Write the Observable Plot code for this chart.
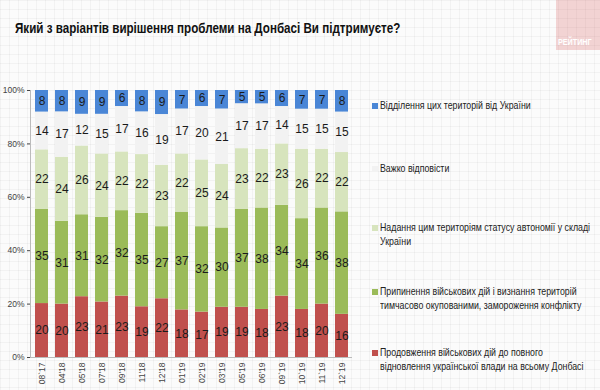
<!DOCTYPE html>
<html>
<head>
<meta charset="utf-8">
<script src="https://cdn.jsdelivr.net/npm/d3@7"></script>
<script src="https://cdn.jsdelivr.net/npm/@observablehq/plot@0.6"></script>
<style>
  html, body { margin: 0; padding: 0; }
  body {
    width: 600px; height: 390px; position: relative; overflow: hidden;
    font-family: "Liberation Sans", Arial, sans-serif;
    background-color: #fbfbfb;
    background-image:
      linear-gradient(to right, rgba(0,0,0,0.035) 1px, transparent 1px),
      linear-gradient(to bottom, rgba(0,0,0,0.035) 1px, transparent 1px);
    background-size: 9px 9px;
  }
  #title { position: absolute; left: 15px; top: 20px; font-weight: bold; font-size: 14px; color: #111; white-space: nowrap; transform: scaleX(0.83); transform-origin: left top; }
  #logo { position: absolute; left: 556px; top: 0; width: 44px; height: 50px; background: rgba(214, 90, 90, 0.25); overflow: hidden; }
  #logo span { position: absolute; left: 2px; top: 37px; color: #fff; font-weight: bold; font-size: 9px; white-space: nowrap; transform: scaleX(0.8); transform-origin: left top; }
  #chart { position: absolute; left: 0; top: 80px; }
  .lg { position: absolute; left: 372px; font-size: 10.5px; line-height: 13.5px; color: #222; }
  .lg i { position: absolute; left: 0; top: 4px; width: 6px; height: 6px; }
  .lg div { margin-left: 8px; white-space: nowrap; transform-origin: left top; display: inline-block; }
</style>
</head>
<body>
<div id="title">Який з варіантів вирішення проблеми на Донбасі Ви підтримуєте?</div>
<div id="logo"><span>РЕЙТИНГ</span></div>
<div id="chart"></div>
<div id="legend"></div>
<script>
const periods = ["08`17","04'18","05'18","07'18","09'18","11'18","12'18","01'19","02'19","03'19","05'19","06'19","09`19","10`19","11`19","12`19"];

const seriesNames = [
  "Продовження військових дій до повного відновлення української влади на всьому Донбасі",
  "Припинення військових дій і визнання територій тимчасово окупованими, замороження конфлікту",
  "Надання цим територіям статусу автономії у складі України",
  "Важко відповісти",
  "Відділення цих територій від України"
];
const seriesColors = ["#c0504d", "#9bbb59", "#d7e4bd", "#f2f2f2", "#4a86d6"];

const continueWar = [20,20,23,21,23,19,22,18,17,19,19,18,23,18,20,16];
const freeze      = [35,31,31,32,32,35,27,37,32,30,37,38,34,34,36,38];
const autonomy    = [22,24,26,24,22,22,23,22,25,24,23,22,23,26,22,22];
const hardToSay   = [14,17,12,15,17,16,19,17,20,21,17,17,14,15,15,15];
const separation  = [ 8, 8, 9, 9, 6, 8, 9, 7, 6, 7, 5, 5, 6, 7, 7, 8];

// legend order (top to bottom) and line breaks as in the reference
const legendOrder = [4, 3, 2, 1, 0];
const legendLines = [
  ["Відділення цих територій від України"],
  ["Важко відповісти"],
  ["Надання цим територіям статусу автономії у складі", "України"],
  ["Припинення військових дій і визнання територій", "тимчасово окупованими, замороження конфлікту"],
  ["Продовження військових дій до повного", "відновлення української влади на всьому Донбасі"]
];
const legendTops = [99, 162, 221, 285, 346];

const seriesValues = [continueWar, freeze, autonomy, hardToSay, separation];
const data = [];
seriesNames.forEach((s, si) => {
  periods.forEach((p, pi) => data.push({period: p, series: s, value: seriesValues[si][pi]}));
});

const chart = Plot.plot({
  width: 360,
  height: 310,
  marginTop: 10,
  marginBottom: 33,
  marginLeft: 30,
  marginRight: 8,
  style: {background: "transparent", fontFamily: "'Liberation Sans', Arial, sans-serif", fontSize: "8.5px", color: "#444"},
  x: {domain: periods, paddingInner: 0.35, paddingOuter: 0.08, label: null, tickRotate: -90, tickSize: 0, tickPadding: 5},
  y: {domain: [0, 1], ticks: [0, 0.2, 0.4, 0.6, 0.8, 1], tickFormat: d => Math.round(d * 100) + "%", label: null, tickSize: 3, tickPadding: 3},
  color: {domain: seriesNames, range: seriesColors},
  marks: [
    Plot.barY(data, Plot.stackY({offset: "normalize", x: "period", y: "value", fill: "series"})),
    Plot.textY(data, Plot.stackY({offset: "normalize", x: "period", y: "value", text: "value", fill: "#1a1a1a", fontSize: 12})),
    Plot.frame({anchor: "left", stroke: "#bbb"}),
    Plot.ruleY([0], {stroke: "#bbb"})
  ]
});
document.getElementById("chart").appendChild(chart);

const legend = document.getElementById("legend");
const texts = [];
legendOrder.forEach((si, k) => {
  const item = document.createElement("div");
  item.className = "lg";
  item.style.top = legendTops[k] + "px";
  const sw = document.createElement("i");
  sw.style.background = seriesColors[si];
  item.appendChild(sw);
  const txt = document.createElement("div");
  txt.innerHTML = legendLines[k].join("<br>");
  item.appendChild(txt);
  legend.appendChild(item);
  texts.push(txt);
});
// condense legend text uniformly so the widest line fits the space on the right
const maxW = Math.max(...texts.map(t => t.getBoundingClientRect().width));
const scale = Math.min(1, 210 / maxW);
texts.forEach(t => { t.style.transform = `scaleX(${scale})`; });
</script>
</body>
</html>
